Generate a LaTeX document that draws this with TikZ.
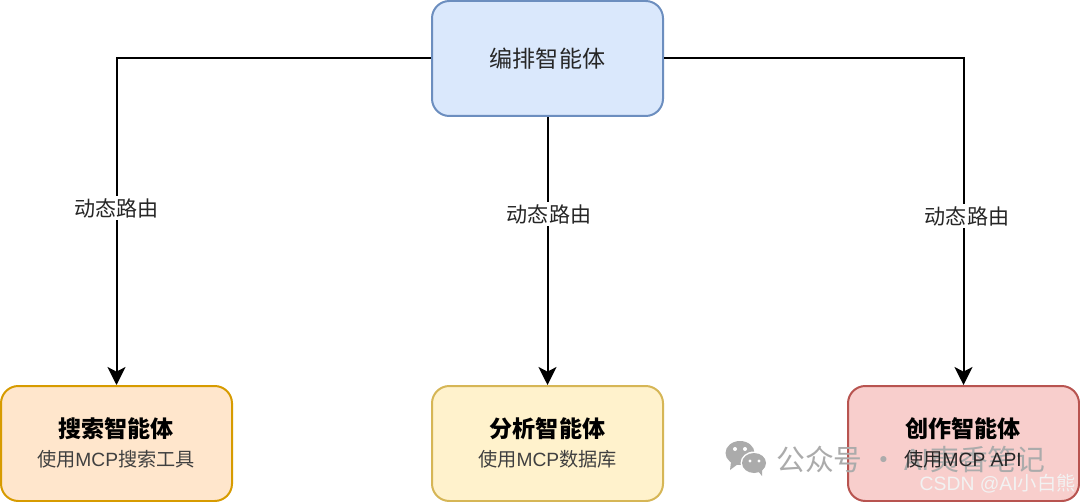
\documentclass[tikz,border=0pt]{standalone}
\usepackage{fontspec}
\setmainfont{Noto Sans CJK SC}
\newfontfamily\latinf{Liberation Sans}
\usetikzlibrary{arrows.meta}
\definecolor{bluefill}{HTML}{DAE8FC}\definecolor{blueline}{HTML}{6C8EBF}
\definecolor{orangefill}{HTML}{FFE6CC}\definecolor{orangeline}{HTML}{D79B00}
\definecolor{yellowfill}{HTML}{FFF2CC}\definecolor{yellowline}{HTML}{D6B656}
\definecolor{redfill}{HTML}{F8CECC}\definecolor{redline}{HTML}{B85450}
\definecolor{wm}{HTML}{ABABAB}
\tikzset{
 x=0.75pt,y=-0.75pt,
 boxn/.style={rounded corners=13pt,line width=1.5pt,minimum width=173.25pt,minimum height=86.25pt,inner sep=0pt,align=center,text=black!85},
 conn/.style={line width=1.5pt,black,-{Stealth[length=13.5pt,width=13.5pt,inset=3.5pt]}},
 lab/.style={fill=white,font=\fontsize{15.8pt}{18pt}\selectfont,inner sep=1.5pt,text=black!85},
 ttl/.style={font=\fontsize{17.3pt}{20pt}\selectfont\bfseries,text=black},
 sub/.style={font=\fontsize{14.4pt}{17pt}\selectfont,text=black!75},
}
\begin{document}
\begin{tikzpicture}
\useasboundingbox (0,0) rectangle (1080,502);
\fill[white] (0,0) rectangle (1080,502);
\node[boxn,draw=blueline,fill=bluefill] (orch) at (547.5,58.5) {\fontsize{17.3pt}{20pt}\selectfont 编排智能体};
\node[boxn,draw=orangeline,fill=orangefill] (search) at (116.5,443.5) {};
\node[boxn,draw=yellowline,fill=yellowfill] (analyse) at (547.5,443.5) {};
\node[boxn,draw=redline,fill=redfill] (create) at (963.5,443.5) {};
\node[ttl] (t1) at (116,429) {搜索智能体};
\node[sub] (s1) at (116,459) {使用{\latinf MCP}搜索工具};
\node[ttl] (t2) at (547.5,429) {分析智能体};
\node[sub] (s2) at (547.5,459) {使用{\latinf MCP}数据库};
\node[ttl] (t3) at (963,429) {创作智能体};
\draw[conn] (orch.west) -| (search.north);
\draw[conn] (orch.south) -- (analyse.north);
\draw[conn] (orch.east) -| (create.north);
\node[lab] (l1) at (116.5,208) {动态路由};
\node[lab] (l2) at (549,214) {动态路由};
\node[lab] (l3) at (967,216) {动态路由};
% watermark
\fill[wm] (740,453) ellipse (14.5 and 12);
\fill[wm] (731,462) -- (730,470) -- (738,464) -- cycle;
\fill[white] (754,463) ellipse (13.5 and 11.5);
\fill[wm] (754,463) ellipse (12 and 10);
\fill[wm] (758,471) -- (762,476) -- (762,468) -- cycle;
\foreach \ex/\ey/\er in {735/449/2,745/449/2,750/461/1.6,759/461/1.6}
  \fill[white] (\ex,\ey) circle (\er);
\node[font=\fontsize{21.6pt}{26pt}\selectfont,text=wm,anchor=west,inner sep=0pt] (wmk) at (776,459) {公众号 · AI夷香笔记};
\node[sub,text=black!85] (s3) at (963,459) {使用{\latinf MCP API}};
\node[font=\fontsize{14.5pt}{18pt}\selectfont,text=white!95!black,anchor=east,inner sep=0pt] (csdn) at (1076,484) {{\latinf CSDN @AI}小白熊};
\end{tikzpicture}
\end{document}
